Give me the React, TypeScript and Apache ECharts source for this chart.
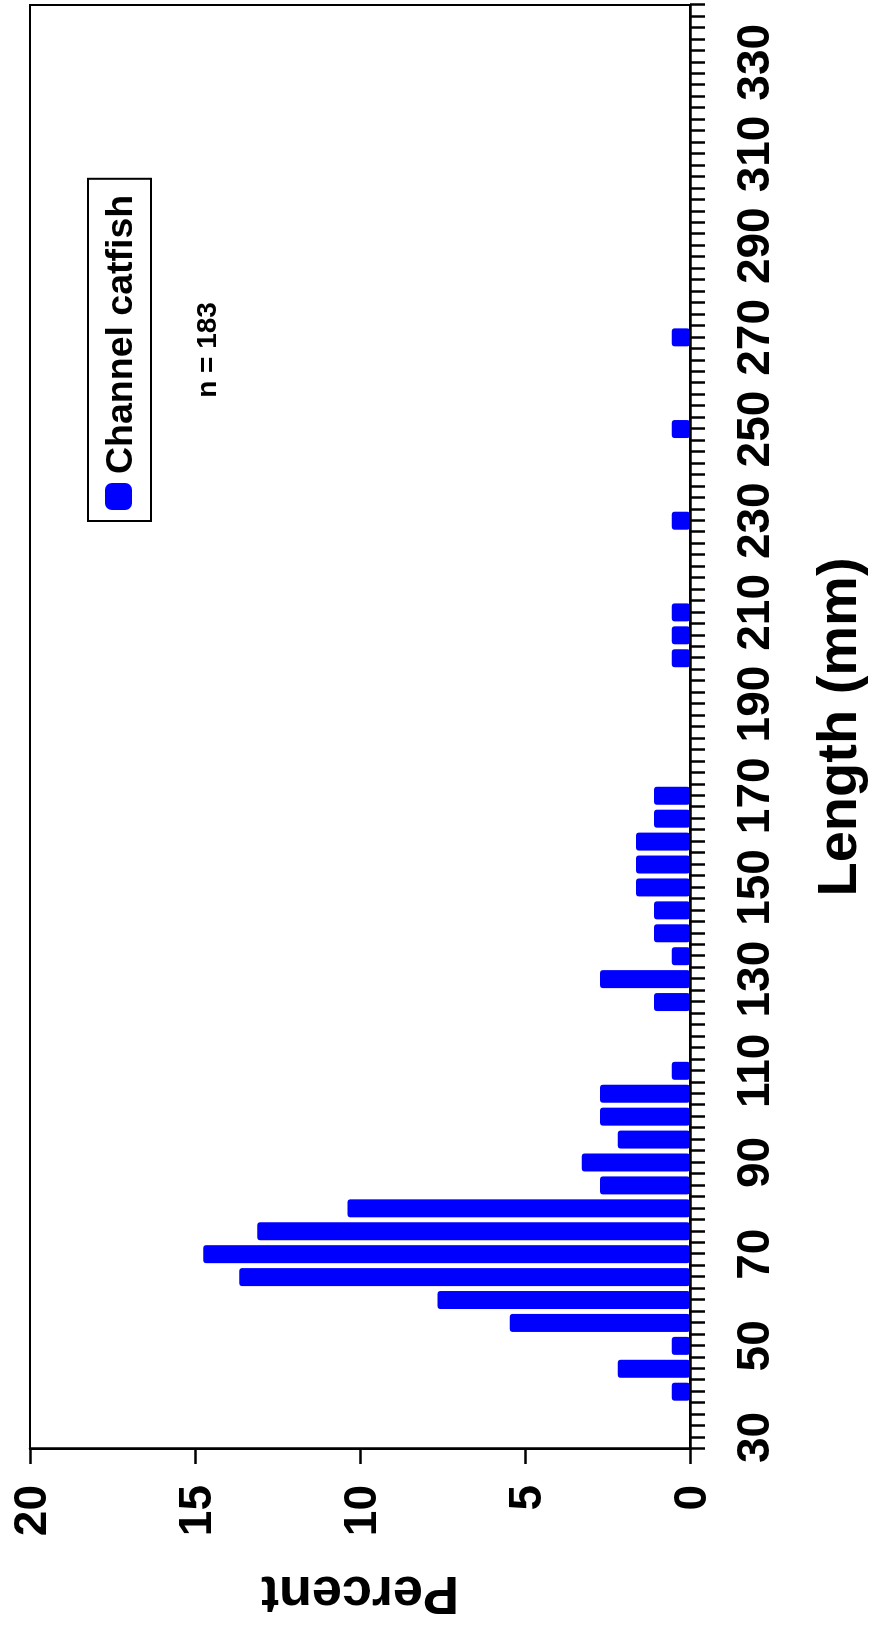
import React, { useEffect, useRef } from "react";
import * as echarts from "echarts";

// Length-frequency histogram of channel catfish (5 mm bins), drawn upright
// and then turned a quarter turn counter-clockwise as a whole figure.
const lengthBins = [
  40, 45, 50, 55, 60, 65, 70, 75, 80, 85, 90, 95, 100, 105, 110,
  125, 130, 135, 140, 145, 150, 155, 160, 165, 170,
  200, 205, 210, 230, 250, 270,
];
const percentValues = [
  0.55, 2.19, 0.55, 5.46, 7.65, 13.66, 14.75, 13.11, 10.38, 2.73, 3.28, 2.19, 2.73, 2.73, 0.55,
  1.09, 2.73, 0.55, 1.09, 1.09, 1.64, 1.64, 1.64, 1.09, 1.09,
  0.55, 0.55, 0.55, 0.55, 0.55, 0.55,
];
const lengthTickLabels = [30, 50, 70, 90, 110, 130, 150, 170, 190, 210, 230, 250, 270, 290, 310, 330];
const percentTickLabels = [0, 5, 10, 15, 20];

const seriesName = "Channel catfish";
const sampleNote = "n = 183";
const xTitle = "Length (mm)";
const yTitle = "Percent";

const FONT = '"Liberation Sans", Arial, Helvetica, sans-serif';
const W = 1631;
const H = 869;

export default function App() {
  const ref = useRef<HTMLDivElement>(null);

  useEffect(() => {
    if (!ref.current) return;
    const chart = echarts.init(ref.current, undefined, { renderer: "svg", width: W, height: H });

    const option = {
      animation: false,
      backgroundColor: "#ffffff",
      grid: {
        left: 179,
        right: 5,
        top: 30,
        bottom: 177,
        show: true,
        borderColor: "#000",
        borderWidth: 2,
      },
      xAxis: {
        type: "value",
        min: 27.5,
        max: 342.5,
        interval: 2.5,
        z: 3,
        name: xTitle,
        nameLocation: "middle",
        nameGap: 118,
        nameTextStyle: { fontSize: 56, fontWeight: "bold", color: "#000", fontFamily: FONT },
        axisLine: { show: true, lineStyle: { color: "#000", width: 2.5 } },
        axisTick: { show: true, length: 15, lineStyle: { color: "#000", width: 2.5 } },
        axisLabel: {
          fontSize: 46,
          fontWeight: "bold",
          color: "#000",
          fontFamily: FONT,
          margin: 40,
          formatter: (v: number) => {
            const r = Math.round(v * 10) / 10;
            return lengthTickLabels.includes(r) ? String(r) : "";
          },
        },
        splitLine: { show: false },
      },
      yAxis: {
        type: "value",
        min: percentTickLabels[0],
        max: percentTickLabels[percentTickLabels.length - 1],
        interval: 5,
        z: 3,
        name: yTitle,
        nameLocation: "middle",
        nameRotate: 90,
        nameGap: 120,
        nameTextStyle: { fontSize: 54, fontWeight: "bold", color: "#000", fontFamily: FONT },
        axisLine: { show: true, lineStyle: { color: "#000", width: 2.5 } },
        axisTick: { show: true, length: 15, lineStyle: { color: "#000", width: 2.5 } },
        axisLabel: {
          fontSize: 46,
          fontWeight: "bold",
          color: "#000",
          fontFamily: FONT,
          margin: 36,
        },
        splitLine: { show: false },
      },
      legend: {
        data: [seriesName],
        left: 1110,
        top: 88,
        orient: "horizontal",
        padding: [11.5, 16, 13.5, 11],
        borderColor: "#000",
        borderWidth: 2,
        backgroundColor: "#fff",
        itemWidth: 27,
        itemHeight: 27,
        icon: "roundRect",
        textStyle: {
          fontSize: 37.5,
          fontWeight: "bold",
          color: "#000",
          fontFamily: FONT,
          padding: [0, 0, 0, 4],
        },
      },
      graphic: [
        {
          type: "text",
          x: 1281,
          y: 206,
          style: {
            text: sampleNote,
            fontSize: 28,
            fontWeight: "bold",
            fontFamily: FONT,
            fill: "#000",
            align: "center",
            verticalAlign: "middle",
          },
        },
      ],
      series: [
        {
          type: "bar",
          name: seriesName,
          data: lengthBins.map((len, i) => [len, percentValues[i]]),
          barWidth: 18,
          itemStyle: { color: "#0000FF", borderRadius: 3 },
        },
      ],
    };

    chart.setOption(option);
    return () => chart.dispose();
  }, []);

  return (
    <div
      ref={ref}
      style={{
        position: "fixed",
        left: 0,
        top: 0,
        width: W,
        height: H,
        background: "#fff",
        transformOrigin: "0 0",
        transform: `translate(0px, ${W}px) rotate(-90deg)`,
      }}
    />
  );
}
